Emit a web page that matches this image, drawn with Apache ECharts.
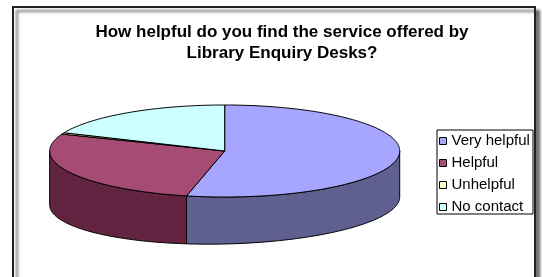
<!DOCTYPE html>
<html>
<head>
<meta charset="utf-8">
<title>Library Enquiry Desks</title>
<script src="https://cdn.jsdelivr.net/npm/echarts@6/dist/echarts.min.js"></script>
<style>
  html, body { margin: 0; padding: 0; background: #fff; }
  #main { width: 542px; height: 277px; }
</style>
</head>
<body>
<div id="main"></div>
<script>
// data
var categories = ['Very helpful', 'Helpful', 'Unhelpful', 'No contact'];
var values = [107, 55, 1, 37];
var topColors = ['#A6A6FF', '#A64B74', '#FFFFCC', '#CCFFFF'];
var sideColors = ['#606090', '#632442', '#99997A', '#7A9999'];

// pie layout (3d look, excel style)
var pie = { cx: 224.7, cy: 151, rx: 175, ry: 46, depth: 50, ryB: 43, tilt: 4 };

// start / end angle of each slice, clockwise from 12 o'clock
var total = values.reduce(function (a, b) { return a + b; }, 0);
var angles = [];
var acc = -90;
values.forEach(function (v) {
  var span = v / total * 360;
  angles.push([acc, acc + span]);
  acc += span;
});

function topPt(t) {
  var r = t * Math.PI / 180;
  return [pie.cx + pie.rx * Math.cos(r), pie.cy + pie.ry * Math.sin(r)];
}
function bottomPt(t) {
  var r = t * Math.PI / 180;
  return [pie.cx + pie.rx * Math.cos(r),
    pie.cy + pie.depth + pie.ryB * Math.sin(r) - pie.tilt * Math.cos(r)];
}
function arc(a, b, fn) {
  var pts = [];
  var n = Math.max(2, Math.ceil(Math.abs(b - a)));
  for (var i = 0; i <= n; i++) pts.push(fn(a + (b - a) * i / n));
  return pts;
}

function renderTop(params, api) {
  var i = params.dataIndex;
  var a = angles[i][0], b = angles[i][1];
  var pts = [[pie.cx, pie.cy]].concat(arc(a, b, topPt));
  return {
    type: 'polygon',
    shape: { points: pts },
    style: { fill: topColors[i], stroke: '#000', lineWidth: 1 }
  };
}

function renderSide(params, api) {
  var i = params.dataIndex;
  // only the front half (0..180) shows its side
  var segs = [];
  [[0, 180], [360, 540]].forEach(function (w) {
    var a = Math.max(angles[i][0], w[0]);
    var b = Math.min(angles[i][1], w[1]);
    if (b > a) segs.push([a, b]);
  });
  if (!segs.length) return null;
  return {
    type: 'group',
    children: segs.map(function (s) {
      var pts = arc(s[0], s[1], topPt).concat(arc(s[1], s[0], bottomPt));
      return {
        type: 'polygon',
        shape: { points: pts },
        style: { fill: sideColors[i], stroke: '#000', lineWidth: 1 }
      };
    })
  };
}

var chart = echarts.init(document.getElementById('main'));

var option = {
  animation: false,
  title: {
    text: 'How helpful do you find the service offered by\nLibrary Enquiry Desks?',
    left: 277,
    top: 17,
    textAlign: 'center',
    textStyle: {
      fontFamily: 'Liberation Sans, Arial',
      fontSize: 17,
      fontWeight: 'bold',
      color: '#000',
      lineHeight: 21
    }
  },
  legend: {
    orient: 'vertical',
    left: 437,
    top: 130,
    padding: [0, 2],
    itemGap: 0,
    itemWidth: 7,
    itemHeight: 7,
    icon: 'rect',
    selectedMode: false,
    data: categories,
    itemStyle: { borderColor: '#000', borderWidth: 1 },
    textStyle: {
      fontFamily: 'Liberation Sans, Arial',
      fontSize: 15,
      color: '#000',
      lineHeight: 22
    }
  },
  graphic: [
    {
      type: 'rect',
      z: -10,
      shape: { x: 13, y: 7, width: 522, height: 300 },
      style: {
        fill: '#fff', stroke: '#222', lineWidth: 2,
        shadowBlur: 3, shadowOffsetX: 4, shadowOffsetY: 4,
        shadowColor: 'rgba(0,0,0,0.55)'
      }
    },
    {
      type: 'rect',
      z: 10,
      shape: { x: 437, y: 130, width: 96, height: 84 },
      style: { fill: 'none', stroke: '#000', lineWidth: 1 }
    }
  ],
  series: [
    {
      // hidden pie: only gives the legend its names and colours
      type: 'pie',
      radius: 0,
      center: [-100, -100],
      silent: true,
      label: { show: false },
      data: categories.map(function (c, i) {
        return { name: c, value: values[i], itemStyle: { color: topColors[i] } };
      })
    },
    {
      type: 'custom',
      coordinateSystem: 'none',
      silent: true,
      z: 2,
      renderItem: renderSide,
      data: values
    },
    {
      type: 'custom',
      coordinateSystem: 'none',
      silent: true,
      z: 3,
      renderItem: renderTop,
      data: values
    }
  ]
};

chart.setOption(option);
</script>
</body>
</html>
